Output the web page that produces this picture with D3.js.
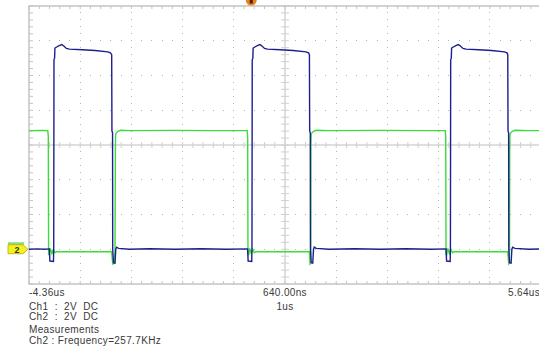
<!DOCTYPE html>
<html>
<head>
<meta charset="utf-8">
<script src="https://cdn.jsdelivr.net/npm/d3@7"></script>
<style>
    body { margin: 0; background: #fff; }
    svg { display: block; }
    .label {
        font-family: "Liberation Sans", Arial, sans-serif;
        font-size: 10px;
        letter-spacing: 0.35px;
        fill: #3a3a3a;
        white-space: pre;
    }
</style>
</head>
<body>
<div id="chart"></div>
<script>
// time in us, level in volts (both channels 2V/div, grounds at the same level)
const ch1Trace = [
    [-4.36, 0.00], [-4.20, 0.02], [-4.05, 0.00], [-3.962, 0.02], [-3.952, -0.68], [-3.882, -0.70],
    [-3.877, 0.2], [-3.872, 10.9], [-3.860, 11.0], [-3.854, 11.58], [-3.82, 11.64], [-3.77, 11.72],
    [-3.72, 11.78], [-3.68, 11.70], [-3.63, 11.56], [-3.57, 11.52], [-3.32, 11.48], [-3.07, 11.44],
    [-2.82, 11.36], [-2.77, 11.30], [-2.745, 11.2], [-2.740, 6.8], [-2.728, 6.7], [-2.725, 0.0],
    [-2.71, -0.78], [-2.68, -0.80], [-2.665, 0.0], [-2.65, 0.12], [-2.61, 0.05], [-2.40, 0.0],
    [-2.00, 0.03], [-1.50, 0.0], [-1.00, 0.03], [-0.50, 0.0],
    [-0.09, 0.02], [-0.08, -0.68], [-0.01, -0.70], [-0.005, 0.2], [0.0, 10.9], [0.012, 11.0],
    [0.018, 11.58], [0.05, 11.64], [0.10, 11.72], [0.15, 11.78], [0.19, 11.70], [0.24, 11.56],
    [0.30, 11.52], [0.55, 11.48], [0.80, 11.44], [1.05, 11.36], [1.10, 11.30], [1.117, 11.2],
    [1.122, 6.8], [1.134, 6.7], [1.137, 0.0], [1.152, -0.78], [1.182, -0.80], [1.197, 0.0],
    [1.212, 0.12], [1.25, 0.05], [1.50, 0.0], [2.0, 0.03], [2.5, 0.0], [3.0, 0.03], [3.5, 0.0],
    [3.786, 0.02], [3.796, -0.68], [3.866, -0.70], [3.871, 0.2], [3.876, 10.9], [3.888, 11.0],
    [3.894, 11.58], [3.926, 11.64], [3.976, 11.72], [4.026, 11.78], [4.066, 11.70], [4.116, 11.56],
    [4.176, 11.52], [4.426, 11.48], [4.676, 11.44], [4.926, 11.36], [4.976, 11.30], [4.991, 11.2],
    [4.996, 6.8], [5.008, 6.7], [5.011, 0.0], [5.026, -0.78], [5.056, -0.80], [5.071, 0.0],
    [5.086, 0.12], [5.13, 0.05], [5.40, 0.0], [5.64, 0.02]
];

const ch2Trace = [
    [-4.36, 6.83], [-4.10, 6.84], [-3.993, 6.83], [-3.983, 6.5], [-3.977, -0.3], [-3.963, -0.32],
    [-3.943, 0.05], [-3.913, -0.25], [-3.883, 0.0], [-3.853, -0.2], [-3.823, -0.14], [-3.30, -0.14],
    [-2.80, -0.14], [-2.745, -0.14], [-2.735, -0.5], [-2.725, -0.85], [-2.695, -0.82], [-2.680, 0.0],
    [-2.672, 6.0], [-2.667, 6.64], [-2.642, 6.74], [-2.612, 6.80], [-2.572, 6.85], [-2.40, 6.83],
    [-1.50, 6.84], [-0.80, 6.83], [-0.099, 6.83], [-0.089, 6.5], [-0.083, -0.3], [-0.069, -0.32],
    [-0.049, 0.05], [-0.019, -0.25], [0.011, 0.0], [0.041, -0.2], [0.071, -0.14], [0.60, -0.14],
    [1.10, -0.14], [1.115, -0.14], [1.123, -0.5], [1.130, -0.85], [1.140, -0.82], [1.144, 0.0],
    [1.148, 6.0], [1.153, 6.64], [1.178, 6.74], [1.208, 6.80], [1.248, 6.85], [1.50, 6.83],
    [2.50, 6.84], [3.40, 6.83], [3.769, 6.83], [3.779, 6.5], [3.785, -0.3], [3.799, -0.32],
    [3.819, 0.05], [3.849, -0.25], [3.879, 0.0], [3.909, -0.2], [3.939, -0.14], [4.50, -0.14],
    [4.99, -0.14], [5.000, -0.5], [5.010, -0.85], [5.020, -0.82], [5.025, 0.0], [5.029, 6.0],
    [5.034, 6.64], [5.059, 6.74], [5.089, 6.80], [5.129, 6.85], [5.40, 6.83], [5.64, 6.83]
];

const timeWindow = [-4.36, 5.64];   // left / right edge of screen, us
const voltWindow = [-2, 14];        // bottom / top of screen, volts
const timeLabels = ["-4.36us", "640.00ns", "5.64us"];
const timeBaseLabel = "1us";
const channelLabels = ["Ch1  :  2V  DC", "Ch2  :  2V  DC"];
const measurementLabels = ["Measurements", "Ch2 : Frequency=257.7KHz"];

class ScopePlot {
    constructor(containerId) {
        this.width = 539;
        this.height = 351;
        this.screen = { left: 29, right: 541, top: 6, bottom: 284 };
        this.container = d3.select("#" + containerId);
        this.init();
    }

    init() {
        this.svg = this.container.append("svg")
            .attr("width", this.width)
            .attr("height", this.height);

        this.xScale = d3.scaleLinear().domain(timeWindow).range([this.screen.left, this.screen.right]);
        this.yScale = d3.scaleLinear().domain(voltWindow).range([this.screen.bottom, this.screen.top]);

        this.drawGrid();
        this.drawTraces();
        this.drawMarkers();
        this.addLabels();
    }

    drawGrid() {
        const x = this.xScale, y = this.yScale;
        const g = this.svg.append("g").attr("class", "grid");
        const gridColor = "#c4c4c4";

        // 10 x 8 divisions, 5 minor steps per division
        const xDivs = d3.range(11).map(i => timeWindow[0] + i);
        const yDivs = d3.range(9).map(i => voltWindow[0] + 2 * i);
        const xMinor = d3.range(51).map(i => timeWindow[0] + i * 0.2);
        const yMinor = d3.range(41).map(i => voltWindow[0] + i * 0.4);
        const xCenter = xDivs[5], yCenter = yDivs[4];

        // dotted division lines
        const dots = [];
        xDivs.slice(1, 10).filter(t => t !== xCenter).forEach(t =>
            yMinor.forEach(v => dots.push([x(t), y(v)])));
        yDivs.slice(1, 8).filter(v => v !== yCenter).forEach(v =>
            xMinor.forEach(t => dots.push([x(t), y(v)])));
        g.selectAll(".dot").data(dots).join("rect")
            .attr("class", "dot")
            .attr("x", d => Math.floor(d[0]))
            .attr("y", d => Math.floor(d[1]))
            .attr("width", 1).attr("height", 1)
            .attr("shape-rendering", "crispEdges")
            .attr("fill", "#b4b4b4");

        // centre cross
        g.append("line")
            .attr("x1", x(timeWindow[0])).attr("x2", x(timeWindow[1]))
            .attr("y1", y(yCenter)).attr("y2", y(yCenter))
            .attr("stroke", "#d4d4d4").attr("stroke-width", 1.5);
        g.append("line")
            .attr("x1", x(xCenter)).attr("x2", x(xCenter))
            .attr("y1", y(voltWindow[0])).attr("y2", y(voltWindow[1]))
            .attr("stroke", "#d4d4d4").attr("stroke-width", 1.5);

        g.selectAll(".hTick").data(xMinor).join("line")
            .attr("class", "hTick")
            .attr("x1", d => x(d)).attr("x2", d => x(d))
            .attr("y1", y(yCenter) - 3).attr("y2", y(yCenter) + 3)
            .attr("stroke", "#d0d0d0");
        g.selectAll(".vTick").data(yMinor).join("line")
            .attr("class", "vTick")
            .attr("x1", x(xCenter) - 4).attr("x2", x(xCenter) + 4)
            .attr("y1", d => y(d)).attr("y2", d => y(d))
            .attr("stroke", "#d0d0d0");

        // screen border with ticks
        g.append("rect")
            .attr("x", x(timeWindow[0])).attr("y", y(voltWindow[1]))
            .attr("width", x(timeWindow[1]) - x(timeWindow[0]))
            .attr("height", y(voltWindow[0]) - y(voltWindow[1]))
            .attr("fill", "none").attr("stroke", gridColor).attr("stroke-width", 1.5);

        g.selectAll(".topTick").data(xMinor).join("line")
            .attr("class", "topTick")
            .attr("x1", d => x(d)).attr("x2", d => x(d))
            .attr("y1", y(voltWindow[1])).attr("y2", y(voltWindow[1]) + 3)
            .attr("stroke", gridColor);
        g.selectAll(".bottomTick").data(xMinor).join("line")
            .attr("class", "bottomTick")
            .attr("x1", d => x(d)).attr("x2", d => x(d))
            .attr("y1", y(voltWindow[0])).attr("y2", y(voltWindow[0]) - 3)
            .attr("stroke", gridColor);
        g.selectAll(".leftTick").data(yMinor).join("line")
            .attr("class", "leftTick")
            .attr("x1", x(timeWindow[0])).attr("x2", x(timeWindow[0]) + 4)
            .attr("y1", d => y(d)).attr("y2", d => y(d))
            .attr("stroke", gridColor);
    }

    drawTraces() {
        const line = d3.line()
            .x(d => this.xScale(d[0]))
            .y(d => this.yScale(d[1]));

        this.svg.append("path")
            .datum(ch2Trace)
            .attr("fill", "none")
            .attr("stroke", "#3cdc3c")
            .attr("stroke-width", 1.4)
            .attr("d", line);

        this.svg.append("path")
            .datum(ch1Trace)
            .attr("fill", "none")
            .attr("stroke", "#1e1e90")
            .attr("stroke-width", 1.4)
            .attr("d", line);
    }

    drawMarkers() {
        // trigger position
        const tx = this.xScale(0) - 1;
        this.svg.append("circle")
            .attr("cx", tx).attr("cy", 0).attr("r", 5.5)
            .attr("fill", "#e8821e");
        this.svg.append("rect")
            .attr("x", tx - 1.5).attr("y", 0).attr("width", 3).attr("height", 3.5)
            .attr("fill", "#4a2000");

        // ch2 ground marker
        const gy = this.yScale(0);
        const m = this.svg.append("g");
        m.append("rect")
            .attr("x", 8).attr("y", gy - 7).attr("width", 16).attr("height", 2.5)
            .attr("fill", "#7fe07f");
        m.append("path")
            .attr("d", `M8,${gy - 4.5} L23,${gy - 4.5} L28,${gy} L23,${gy + 4.5} L8,${gy + 4.5} Z`)
            .attr("fill", "#f2f21e")
            .attr("stroke", "#b8a800")
            .attr("stroke-width", 0.8);
        m.append("text")
            .attr("x", 17).attr("y", gy + 3.5)
            .attr("text-anchor", "middle")
            .style("font-family", "Liberation Sans, Arial, sans-serif")
            .style("font-size", "9px")
            .style("font-weight", "bold")
            .attr("fill", "#333")
            .text("2");
    }

    addLabels() {
        const left = this.screen.left;
        const rows = [
            { text: timeLabels[0], x: left, y: 295.5, anchor: "start" },
            { text: timeLabels[1], x: this.xScale(0.64), y: 295.5, anchor: "middle" },
            { text: timeLabels[2], x: 508, y: 295.5, anchor: "start" },
            { text: timeBaseLabel, x: this.xScale(0.64), y: 309.5, anchor: "middle" },
            { text: channelLabels[0], x: left, y: 310, anchor: "start" },
            { text: channelLabels[1], x: left, y: 319.5, anchor: "start" },
            { text: measurementLabels[0], x: left, y: 332.5, anchor: "start" },
            { text: measurementLabels[1], x: left, y: 343.5, anchor: "start" }
        ];

        this.svg.selectAll(".label").data(rows).join("text")
            .attr("class", "label")
            .attr("x", d => d.x)
            .attr("y", d => d.y)
            .attr("text-anchor", d => d.anchor)
            .text(d => d.text);
    }
}

new ScopePlot("chart");
</script>
</body>
</html>
